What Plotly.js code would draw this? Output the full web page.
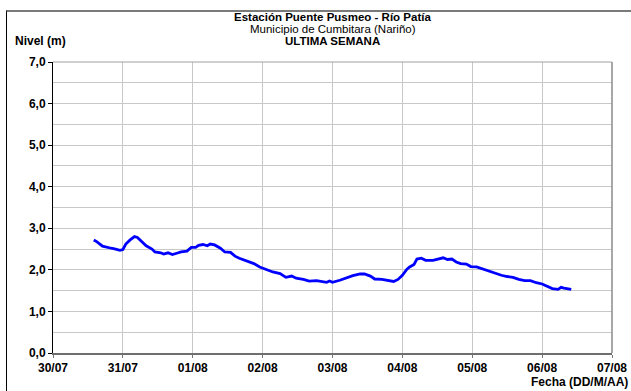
<!DOCTYPE html>
<html>
<head>
<meta charset="utf-8">
<script src="https://cdn.plot.ly/plotly-3.0.1.min.js"></script>
<style>
html,body{margin:0;padding:0;background:#fff;}
#wrap{position:relative;width:631px;height:391px;overflow:hidden;}
#chart{width:631px;height:391px;}
#frame{position:absolute;left:6px;top:10px;width:700px;height:500px;border-top:2px solid #7a7a7a;border-left:1px solid #000;pointer-events:none;}
</style>
</head>
<body>
<div id="wrap"><div id="chart"></div><div id="frame"></div></div>
<script>
const times = [
"2020-07-30 14:00","2020-07-30 15:00","2020-07-30 17:00","2020-07-30 18:30","2020-07-30 20:00","2020-07-30 21:30","2020-07-30 23:00",
"2020-07-31 00:00","2020-07-31 01:00","2020-07-31 02:30","2020-07-31 04:00","2020-07-31 05:00","2020-07-31 06:30","2020-07-31 08:00",
"2020-07-31 10:00","2020-07-31 11:00","2020-07-31 13:00","2020-07-31 14:00","2020-07-31 15:30","2020-07-31 17:00","2020-07-31 18:30",
"2020-07-31 20:00","2020-07-31 22:00","2020-07-31 23:30",
"2020-08-01 01:00","2020-08-01 02:00","2020-08-01 03:30","2020-08-01 05:00","2020-08-01 06:00","2020-08-01 07:30","2020-08-01 09:30",
"2020-08-01 11:00","2020-08-01 13:00","2020-08-01 14:30","2020-08-01 16:00","2020-08-01 18:30","2020-08-01 21:00","2020-08-01 23:00",
"2020-08-02 01:30","2020-08-02 03:30","2020-08-02 06:00","2020-08-02 08:00","2020-08-02 10:00","2020-08-02 11:30","2020-08-02 14:00",
"2020-08-02 16:00","2020-08-02 18:30","2020-08-02 20:00","2020-08-02 22:00","2020-08-02 23:00",
"2020-08-03 00:00","2020-08-03 02:30","2020-08-03 05:00","2020-08-03 07:00","2020-08-03 09:30","2020-08-03 11:00","2020-08-03 13:00",
"2020-08-03 14:30","2020-08-03 17:00","2020-08-03 18:30","2020-08-03 21:00","2020-08-03 22:30",
"2020-08-04 00:00","2020-08-04 01:30","2020-08-04 02:30","2020-08-04 04:00","2020-08-04 05:00","2020-08-04 06:30","2020-08-04 08:00",
"2020-08-04 10:30","2020-08-04 12:00","2020-08-04 14:00","2020-08-04 15:30","2020-08-04 17:00","2020-08-04 18:30","2020-08-04 20:00",
"2020-08-04 22:00","2020-08-04 23:30",
"2020-08-05 01:30","2020-08-05 03:30","2020-08-05 05:30","2020-08-05 07:30","2020-08-05 10:00","2020-08-05 12:00","2020-08-05 14:00",
"2020-08-05 16:00","2020-08-05 18:00","2020-08-05 20:00","2020-08-05 22:00",
"2020-08-06 00:00","2020-08-06 02:00","2020-08-06 03:30","2020-08-06 05:30","2020-08-06 06:30","2020-08-06 07:30","2020-08-06 10:00"
];
const nivel = [
2.72,2.68,2.57,2.54,2.52,2.50,2.47,
2.49,2.62,2.72,2.80,2.78,2.68,2.58,
2.50,2.43,2.41,2.38,2.41,2.37,2.40,
2.43,2.45,2.54,
2.54,2.59,2.61,2.58,2.62,2.60,2.52,
2.43,2.42,2.33,2.28,2.21,2.15,2.07,
2.01,1.95,1.91,1.82,1.85,1.80,1.77,
1.73,1.74,1.73,1.70,1.73,
1.70,1.75,1.82,1.86,1.90,1.90,1.85,
1.78,1.77,1.75,1.72,1.77,
1.87,2.01,2.07,2.13,2.26,2.28,2.23,
2.23,2.26,2.29,2.25,2.26,2.19,2.15,
2.14,2.08,
2.07,2.02,1.97,1.93,1.87,1.84,1.82,
1.77,1.74,1.74,1.69,
1.66,1.59,1.55,1.53,1.58,1.56,1.53
];
const xTickVals = ["2020-07-30","2020-07-31","2020-08-01","2020-08-02","2020-08-03","2020-08-04","2020-08-05","2020-08-06","2020-08-07"];
const xTickLabels = ["30/07","31/07","01/08","02/08","03/08","04/08","05/08","06/08","07/08"];
const yTickVals = [0,1,2,3,4,5,6,7];
const yTickLabels = ["0,0","1,0","2,0","3,0","4,0","5,0","6,0","7,0"];
const xRange = ["2020-07-30 00:00","2020-08-07 00:00"];
const yRange = [0,7];
const titleLines = ["<b>Estación Puente Pusmeo - Río Patía</b>","Municipio de Cumbitara (Nariño)","<b>ULTIMA SEMANA</b>"];

const fontFam = "Liberation Sans, Arial, sans-serif";
const bold = s => "<b>" + s + "</b>";
const trace = {
  x: times, y: nivel, type: "scatter", mode: "lines",
  line: {color: "#0000ff", width: 2.8, shape: "linear"},
  hoverinfo: "skip"
};
const layout = {
  width: 631, height: 391,
  margin: {l: 53, r: 19, t: 62, b: 38},
  paper_bgcolor: "#fff", plot_bgcolor: "#fff",
  showlegend: false,
  font: {family: fontFam, color: "#000", size: 12},
  xaxis: {
    type: "date", range: xRange,
    tickmode: "array", tickvals: xTickVals, ticktext: xTickLabels.map(bold),
    showgrid: true, gridcolor: "#c8c8c8", gridwidth: 1,
    ticks: "outside", ticklen: 3, tickcolor: "#777", tickwidth: 1,
    showline: true, linecolor: "#6e6e6e", linewidth: 2,
    tickfont: {family: fontFam, size: 12, color: "#000"},
    zeroline: false, fixedrange: true
  },
  yaxis: {
    range: yRange,
    tickmode: "array", tickvals: yTickVals, ticktext: yTickLabels.map(bold),
    showgrid: true, gridcolor: "#c8c8c8", gridwidth: 1,
    minor: {dtick: 0.5, tick0: 0, showgrid: true, gridcolor: "#c8c8c8", gridwidth: 1, ticks: ""},
    ticks: "outside", ticklen: 4, tickcolor: "#000", tickwidth: 1,
    showline: true, linecolor: "#000", linewidth: 1,
    tickfont: {family: fontFam, size: 12, color: "#000"},
    zeroline: false, fixedrange: true
  },
  shapes: [
    {type: "line", xref: "paper", yref: "paper", x0: 1, x1: 1, y0: 0, y1: 1, line: {color: "#8a8a8a", width: 1.5}},
    {type: "line", xref: "paper", yref: "paper", x0: 0, x1: 1, y0: 1, y1: 1, line: {color: "#a0a0a0", width: 1}}
  ],
  annotations: [
    {xref: "paper", yref: "paper", x: 0.5, y: 1, yshift: 45, xanchor: "center", yanchor: "middle", showarrow: false,
     text: titleLines[0], font: {family: fontFam, size: 11.5, color: "#000"}},
    {xref: "paper", yref: "paper", x: 0.5, y: 1, yshift: 33, xanchor: "center", yanchor: "middle", showarrow: false,
     text: titleLines[1], font: {family: fontFam, size: 11.5, color: "#000"}},
    {xref: "paper", yref: "paper", x: 0.5, y: 1, yshift: 21, xanchor: "center", yanchor: "middle", showarrow: false,
     text: titleLines[2], font: {family: fontFam, size: 11.5, color: "#000"}},
    {xref: "paper", yref: "paper", x: 0, y: 1, xshift: -40, yshift: 21, xanchor: "left", yanchor: "middle", showarrow: false,
     text: "<b>Nivel (m)</b>", font: {family: fontFam, size: 12, color: "#000"}},
    {xref: "paper", yref: "paper", x: 1, y: 0, xshift: 18, yshift: -29, xanchor: "right", yanchor: "middle", showarrow: false,
     text: "<b>Fecha (DD/M/AA)</b>", font: {family: fontFam, size: 12, color: "#000"}}
  ]
};
Plotly.newPlot("chart", [trace], layout, {staticPlot: true, displayModeBar: false}).then(gd => {
  gd.querySelectorAll("g.xtick text, g.ytick text, g.xtick tspan, g.ytick tspan").forEach(t => {
    t.style.setProperty("font-weight", "bold", "important");
  });
});
</script>
</body>
</html>
